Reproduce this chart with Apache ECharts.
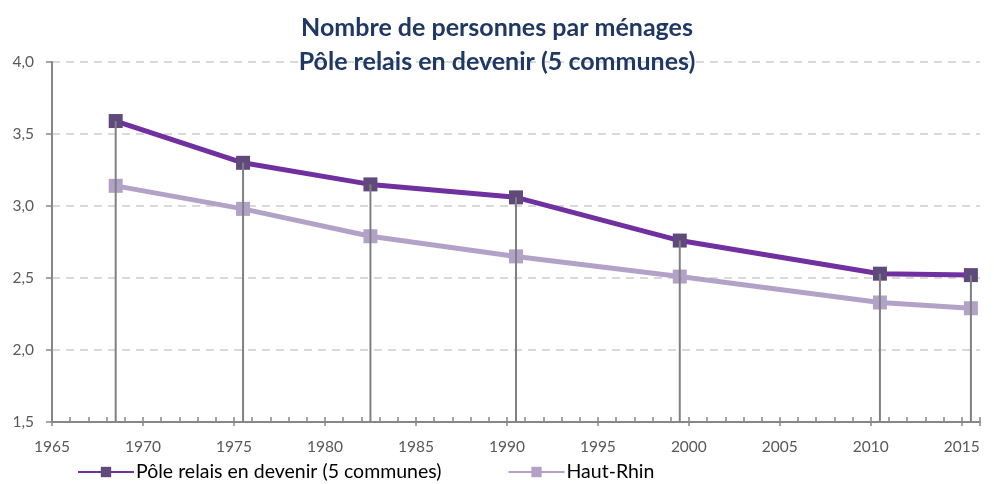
<!DOCTYPE html>
<html>
<head>
<meta charset="utf-8">
<script src="https://cdn.jsdelivr.net/npm/echarts@6/dist/echarts.min.js"></script>
<style>
  html, body { margin: 0; padding: 0; background: #fff; }
  #chart { width: 994px; height: 484px; }
</style>
</head>
<body>
<div id="chart"></div>
<script>
// Census years and average household size
const censusYears = [1968, 1975, 1982, 1990, 1999, 2010, 2015];
const poleRelais = [3.59, 3.30, 3.15, 3.06, 2.76, 2.53, 2.52];
const hautRhin = [3.14, 2.98, 2.79, 2.65, 2.51, 2.33, 2.29];
const seriesNames = ['Pôle relais en devenir (5 communes)', 'Haut-Rhin'];
const titleLines = ['Nombre de personnes par ménages', 'Pôle relais en devenir (5 communes)'];

// each census year is placed at the middle of its year span
const toPoints = vals => censusYears.map((y, i) => [y + 0.5, vals[i]]);

const FONT = 'Lato';
const AXIS_GRAY = '#868686';
const LABEL_GRAY = '#595959';

const grid = { left: 52, right: 14, top: 62, bottom: 62 };

const xCommon = {
  type: 'value', min: 1965, max: 2016, interval: 5,
  splitLine: { show: false }
};

const chart = echarts.init(document.getElementById('chart'));
chart.setOption({
  animation: false,
  textStyle: { fontFamily: FONT },
  title: {
    text: titleLines.join('\n'),
    left: 'center', top: 6,
    textStyle: { fontFamily: FONT, fontWeight: 'bold', fontSize: 25, color: '#1F3864', lineHeight: 34 }
  },
  grid: grid,
  legend: {
    bottom: -3, left: 72,
    itemWidth: 56, itemHeight: 13, itemGap: 66,
    textStyle: { fontFamily: FONT, fontSize: 19.5, color: '#000', padding: [0, 0, 0, -3] },
    data: seriesNames
  },
  xAxis: [
    Object.assign({}, xCommon, {
      axisLine: { lineStyle: { color: AXIS_GRAY, width: 2 } },
      axisTick: { show: true, inside: true, length: 5, lineStyle: { color: AXIS_GRAY, width: 1.5 } },
      minorTick: { show: true, splitNumber: 5, length: 5, lineStyle: { color: AXIS_GRAY, width: 1.5 } },
      axisLabel: {
        color: LABEL_GRAY, fontSize: 15.5, margin: 17,
        formatter: v => (v % 5 === 0 ? String(v) : '')
      }
    }),
    Object.assign({}, xCommon, {
      position: 'bottom',
      axisLine: { show: false },
      axisTick: { show: true, inside: false, length: 4, lineStyle: { color: AXIS_GRAY, width: 1.5 } },
      axisLabel: { show: false }
    })
  ],
  yAxis: {
    type: 'value', min: 1.5, max: 4, interval: 0.5,
    axisLine: { show: true, lineStyle: { color: AXIS_GRAY, width: 2 } },
    axisTick: { show: true, length: 6, lineStyle: { color: AXIS_GRAY, width: 1.5 } },
    axisLabel: {
      color: LABEL_GRAY, fontSize: 15.5, margin: 18,
      formatter: v => v.toFixed(1).replace('.', ',')
    },
    splitLine: {
      show: true,
      lineStyle: { color: '#D9D9D9', width: 2, type: [8, 6] }
    }
  },
  series: [
    {
      name: seriesNames[1], type: 'line', z: 3,
      data: toPoints(hautRhin),
      symbol: 'rect', symbolSize: 14,
      lineStyle: { color: '#B3A2C7', width: 5 },
      itemStyle: { color: '#B3A2C7' }
    },
    {
      name: seriesNames[0], type: 'line', z: 4,
      data: toPoints(poleRelais),
      symbol: 'rect', symbolSize: 14,
      lineStyle: { color: '#7030A0', width: 5 },
      itemStyle: { color: '#604A7B' }
    },
    {
      // vertical drop lines from each upper point to the axis
      type: 'custom', z: 6, silent: true,
      data: toPoints(poleRelais),
      renderItem: (params, api) => {
        const top = api.coord([api.value(0), api.value(1)]);
        const bottom = api.coord([api.value(0), 1.5]);
        return {
          type: 'line',
          shape: { x1: top[0], y1: top[1], x2: bottom[0], y2: bottom[1] },
          style: { stroke: '#808080', lineWidth: 2 }
        };
      }
    }
  ]
});
</script>
</body>
</html>
